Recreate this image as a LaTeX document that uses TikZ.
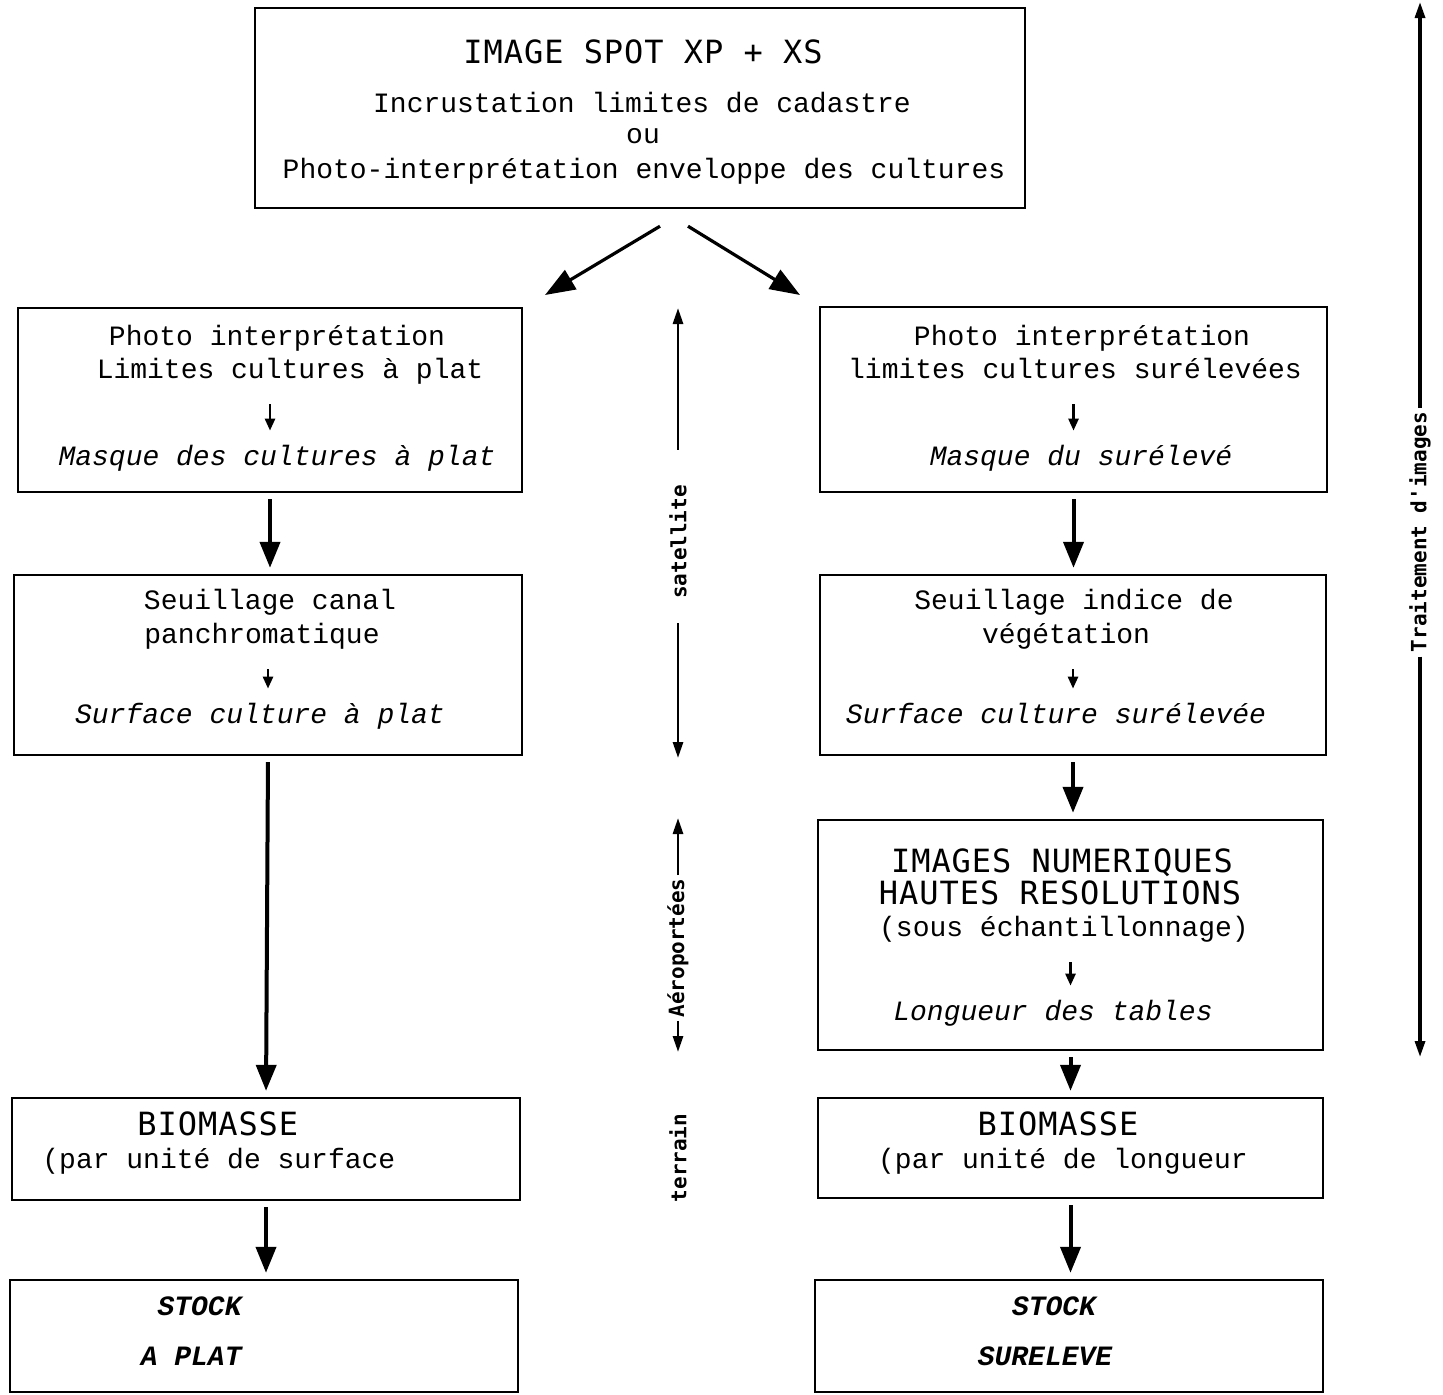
\documentclass[tikz,border=0pt]{standalone}
\usepackage{fontspec}
\setmonofont{Liberation Mono}
\newfontfamily\titrefont[LetterSpace=3]{DejaVu Sans Mono}
\newfontfamily\cotefont{DejaVu Sans Mono}
\usetikzlibrary{arrows.meta}
\tikzset{
  boite/.style={draw,line width=1.2pt,inner sep=0},
  ligne/.style={anchor=base,inner sep=0,text height=10pt,text depth=3pt,font=\ttfamily\fontsize{14}{14}\selectfont},
  ligneit/.style={ligne,font=\ttfamily\itshape\fontsize{14}{14}\selectfont},
  titre/.style={ligne,font=\titrefont\fontsize{16}{16}\selectfont},
  stock/.style={ligne,font=\ttfamily\bfseries\itshape\fontsize{14}{14}\selectfont},
  cote/.style={rotate=90,inner sep=0,font=\cotefont\bfseries\fontsize{10.5}{10.5}\selectfont},
  grosse/.style={-{Triangle[length=13pt,width=10pt]},line width=2pt,shorten <=3pt,shorten >=3pt},
  diag/.style={-{Triangle[length=15pt,width=11pt]},line width=1.6pt},
  petite/.style={-{Triangle[length=6pt,width=5pt]},line width=1.3pt,shorten <=10pt,shorten >=7pt},
  fine/.style={-{Triangle[length=8pt,width=5pt]},line width=1.4pt}
}
\begin{document}
\begin{tikzpicture}[x=0.5pt,y=-0.5pt]
  \useasboundingbox (0,0) rectangle (1443,1394);
  % cadres
  \node[boite,minimum width=385pt,minimum height=100pt] (spot) at (640,108) {};
  \node[boite,minimum width=252pt,minimum height=92pt] (masqueP) at (270,400) {};
  \node[boite,minimum width=253.5pt,minimum height=92.5pt] (masqueS) at (1073.5,399.5) {};
  \node[boite,minimum width=254pt,minimum height=90pt] (seuilP) at (268,665) {};
  \node[boite,minimum width=253pt,minimum height=90pt] (seuilS) at (1073,665) {};
  \node[boite,minimum width=252.5pt,minimum height=115pt] (numer) at (1070.5,935) {};
  \node[boite,minimum width=254pt,minimum height=51pt] (bioP) at (266,1149) {};
  \node[boite,minimum width=252.5pt,minimum height=50pt] (bioS) at (1070.5,1148) {};
  \node[boite,minimum width=254pt,minimum height=56pt] (stockP) at (264,1336) {};
  \node[boite,minimum width=254pt,minimum height=56pt] (stockS) at (1069,1336) {};
  % textes
  \node[titre] (spot1) at (643,63) {IMAGE SPOT XP + XS};
  \node[ligne] (spot2) at (642,112) {Incrustation limites de cadastre};
  \node[ligne] (spot3) at (643,143) {ou};
  \node[ligne] (spot4) at (644,178) {Photo-interprétation enveloppe des cultures};
  \node[ligne] (mp1) at (277,345) {Photo interprétation};
  \node[ligne] (mp2) at (290,378) {Limites cultures à plat};
  \node[ligneit] (mp3) at (277,465) {Masque des cultures à plat};
  \node[ligne] (ms1) at (1082,345) {Photo interprétation};
  \node[ligne] (ms2) at (1075,378) {limites cultures surélevées};
  \node[ligneit] (ms3) at (1081,465) {Masque du surélevé};
  \node[ligne] (sp1) at (270,609) {Seuillage canal};
  \node[ligne] (sp2) at (262,643) {panchromatique};
  \node[ligneit] (sp3) at (260,723) {Surface culture à plat};
  \node[ligne] (ss1) at (1074,609) {Seuillage indice de};
  \node[ligne] (ss2) at (1066,643) {végétation};
  \node[ligneit] (ss3) at (1056,723) {Surface culture surélevée};
  \node[titre] (nu1) at (1062,872) {IMAGES NUMERIQUES};
  \node[titre] (nu2) at (1060,904) {HAUTES RESOLUTIONS};
  \node[ligne] (nu3) at (1064,936) {(sous échantillonnage)};
  \node[ligneit] (nu4) at (1053,1020) {Longueur des tables};
  \node[titre,anchor=base west] (bp1) at (137,1135) {BIOMASSE};
  \node[ligne,anchor=base west] (bp2) at (42,1168) {(par unité de surface};
  \node[titre] (bs1) at (1058,1135) {BIOMASSE};
  \node[ligne] (bs2) at (1063,1168) {(par unité de longueur};
  \node[stock,anchor=base east] (stp1) at (242,1315) {STOCK};
  \node[stock,anchor=base east] (stp2) at (242,1365) {A PLAT};
  \node[stock] (sts1) at (1054,1315) {STOCK};
  \node[stock] (sts2) at (1045,1365) {SURELEVE};
  % fleches internes
  \draw[petite] (mp2.south -| masqueP) -- (mp3.north -| masqueP);
  \draw[petite] (ms2.south -| masqueS) -- (ms3.north -| masqueS);
  \draw[petite] (sp2.south -| seuilP) -- (sp3.north -| seuilP);
  \draw[petite] (ss2.south -| seuilS) -- (ss3.north -| seuilS);
  \draw[petite] (nu3.south -| numer) -- (nu4.north -| numer);
  % enchainements
  \coordinate (gauche) at (545,295);
  \coordinate (droite) at (800,295);
  \draw[diag] ([xshift=10pt,yshift=-8.5pt]spot.south) -- (gauche);
  \draw[diag] ([xshift=24pt,yshift=-8.5pt]spot.south) -- (droite);
  \draw[grosse] (masqueP.south) -- (masqueP.south |- seuilP.north);
  \draw[grosse] (seuilP.south) -- (bioP.north);
  \draw[grosse] (bioP.south) -- (bioP.south |- stockP.north);
  \draw[grosse] (masqueS.south) -- (masqueS.south |- seuilS.north);
  \draw[grosse] (seuilS.south) -- (seuilS.south |- numer.north);
  \draw[grosse] (numer.south) -- (numer.south |- bioS.north);
  \draw[grosse] (bioS.south) -- (bioS.south |- stockS.north);
  % echelles
  \node[cote] (sat) at (678,542) {satellite};
  \node[cote] (aer) at (678,948) {Aéroportées};
  \node[cote] (ter) at (678,1158) {terrain};
  \node[cote] (trait) at (1420,532) {Traitement d'images};
  \coordinate (satH) at (678,308);
  \coordinate (satB) at (678,758);
  \coordinate (aerH) at (678,818);
  \coordinate (aerB) at (678,1052);
  \coordinate (trH) at (1420,2);
  \coordinate (trB) at (1420,1057);
  \draw[fine,shorten <=17.5pt] (sat.east) -- (satH);
  \draw[fine,shorten <=12pt] (sat.west) -- (satB);
  \draw[fine,shorten <=1.5pt] (aer.east) -- (aerH);
  \draw[fine,shorten <=1.5pt] (aer.west) -- (aerB);
  \draw[fine,line width=1.6pt,shorten <=2pt] (trait.east) -- (trH);
  \draw[fine,line width=1.6pt,shorten <=2pt] (trait.west) -- (trB);
\end{tikzpicture}
\end{document}
